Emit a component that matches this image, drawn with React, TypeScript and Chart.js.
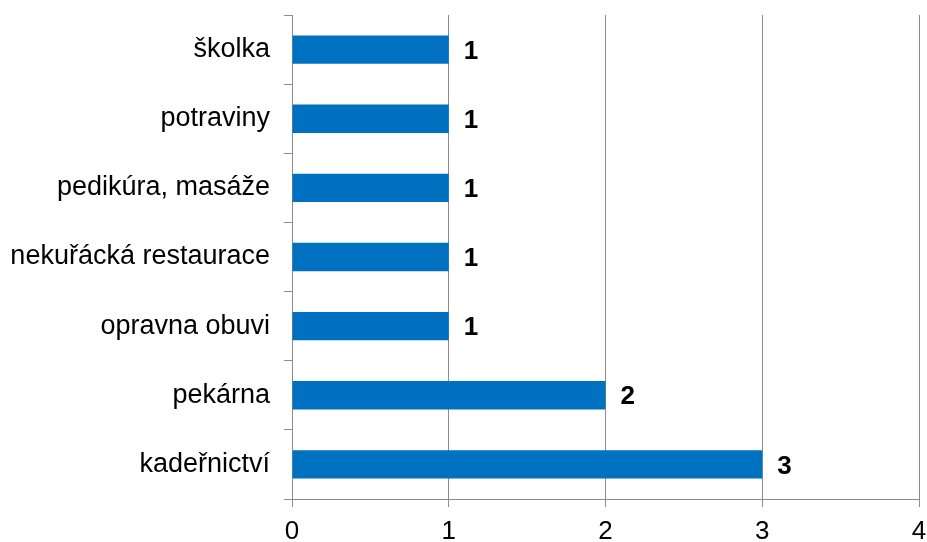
import React, { useEffect, useRef } from "react";
import { Chart, registerables } from "chart.js";

Chart.register(...registerables);

const categories = [
  "školka",
  "potraviny",
  "pedikúra, masáže",
  "nekuřácká restaurace",
  "opravna obuvi",
  "pekárna",
  "kadeřnictví",
];
const values = [1, 1, 1, 1, 1, 2, 3];
const xTicks = [0, 1, 2, 3, 4];

const FONT = "'Liberation Sans', Arial, sans-serif";
const GRID = "#8c8c8c";

const valueLabels = {
  id: "valueLabels",
  afterDatasetsDraw(chart: any) {
    const ctx = chart.ctx;
    const meta = chart.getDatasetMeta(0);
    ctx.save();
    ctx.font = `bold 26px ${FONT}`;
    ctx.fillStyle = "#000";
    ctx.textAlign = "left";
    ctx.textBaseline = "middle";
    meta.data.forEach((bar: any, i: number) => {
      ctx.fillText(String(values[i]), bar.x + 15, bar.y + 2);
    });
    ctx.restore();
  },
};

export default function App() {
  const ref = useRef<HTMLCanvasElement>(null);
  useEffect(() => {
    if (!ref.current) return;
    const chart = new Chart(ref.current, {
      type: "bar",
      data: {
        labels: categories,
        datasets: [
          {
            data: values,
            backgroundColor: "#0070C0",
            borderWidth: 0,
            barPercentage: 0.41,
            categoryPercentage: 1,
          },
        ],
      },
      options: {
        indexAxis: "y",
        responsive: false,
        animation: false,
        layout: { padding: { top: 15, right: 8, left: 0, bottom: 0 } },
        plugins: {
          legend: { display: false },
          tooltip: { enabled: false },
        },
        scales: {
          x: {
            min: 0,
            max: 4,
            afterBuildTicks(axis: any) {
              axis.ticks = xTicks.map((v) => ({ value: v }));
            },
            afterFit(axis: any) {
              axis.height = 43;
              axis.paddingLeft = 0;
              axis.paddingRight = 0;
              axis.paddingTop = 0;
              axis.paddingBottom = 0;
            },
            grid: {
              color: GRID,
              lineWidth: 1,
              tickLength: 8,
              drawOnChartArea: true,
              drawTicks: true,
            },
            border: { color: GRID, width: 1 },
            ticks: {
              color: "#000",
              font: { family: FONT, size: 26 },
              padding: 9,
              maxRotation: 0,
            },
          },
          y: {
            afterFit(axis: any) {
              axis.width = 292;
              axis.paddingLeft = 0;
              axis.paddingRight = 0;
              axis.paddingTop = 0;
              axis.paddingBottom = 0;
            },
            grid: {
              color: GRID,
              offset: true,
              drawOnChartArea: false,
              drawTicks: true,
              tickLength: 8,
            },
            border: { color: GRID, width: 1 },
            ticks: {
              color: "#000",
              font: { family: FONT, size: 27 },
              padding: 14,
              autoSkip: false,
            },
          },
        },
      },
      plugins: [valueLabels],
    });
    return () => chart.destroy();
  }, []);
  return (
    <div style={{ position: "fixed", left: 0, top: 0, width: 927, height: 542, background: "#fff" }}>
      <canvas ref={ref} width={927} height={542} />
    </div>
  );
}
